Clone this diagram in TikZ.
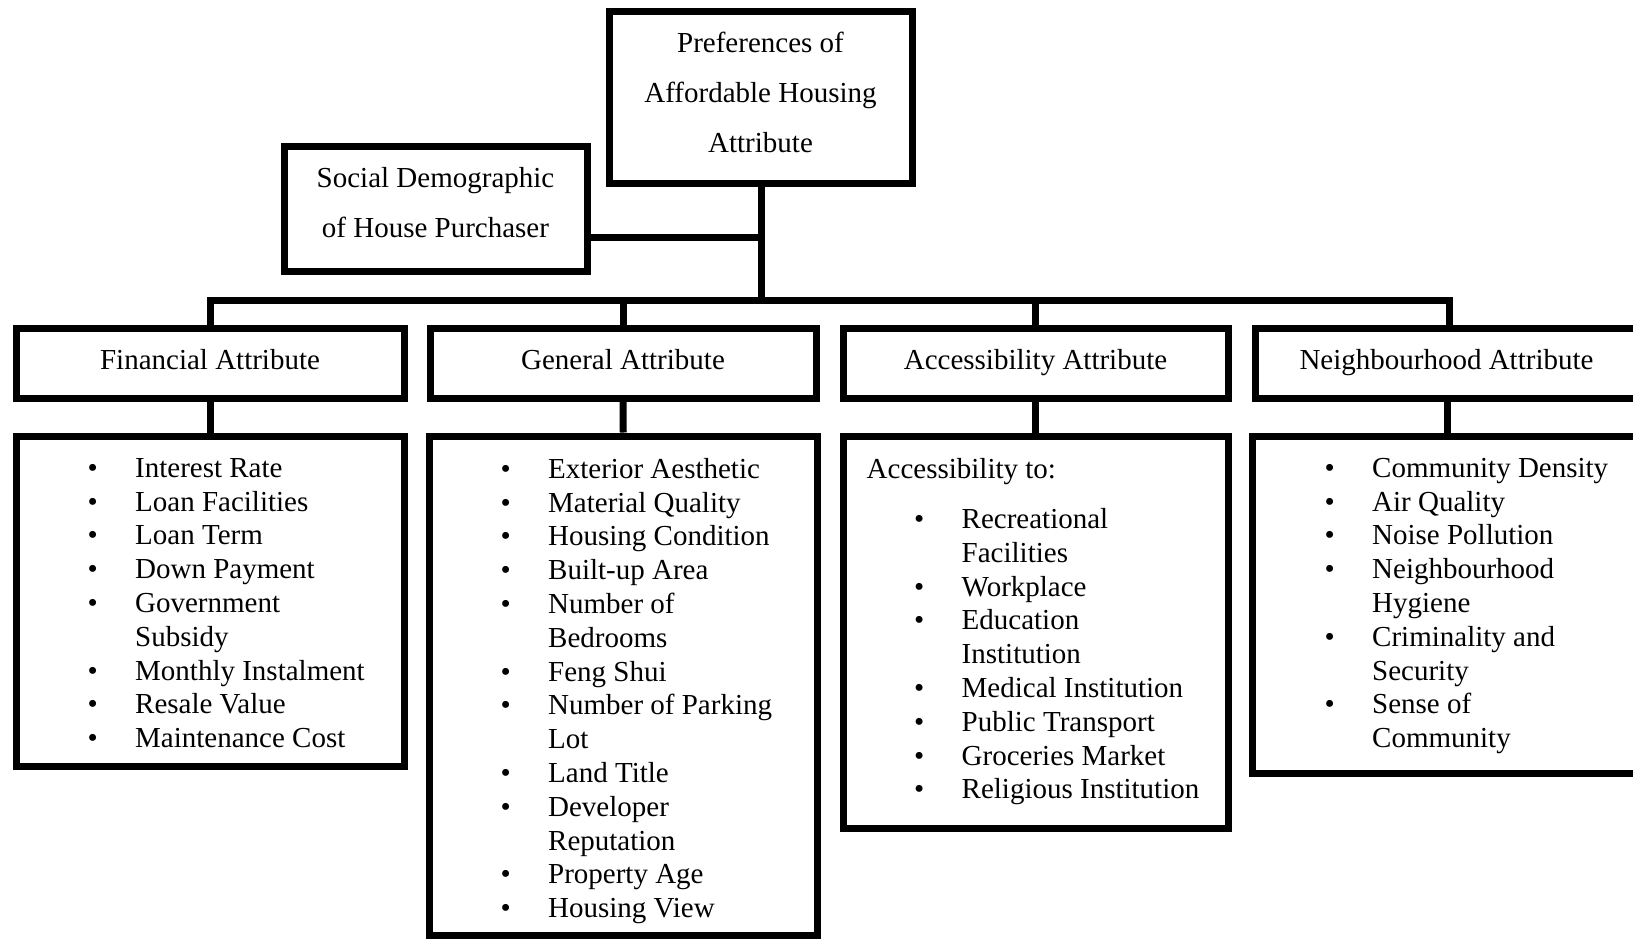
\documentclass[tikz,border=0pt]{standalone}
\usepackage{fontspec}
\setmainfont{Liberation Serif}
\newcommand{\bl}{\makebox[47.5pt][l]{•}}
\newcommand{\ind}{\hspace*{47.5pt}}
\begin{document}
\begin{tikzpicture}[x=1pt,y=-1pt,
  box/.style={draw, line width=7pt, inner sep=0pt, align=center, font=\fontsize{29}{33.8}\selectfont},
  hdr/.style={box, minimum height=70pt, text height=20pt, text depth=8pt},
  conn/.style={line width=7pt, line join=miter},
  listtext/.style={anchor=north west, inner sep=0pt, align=left, font=\fontsize{29}{33.8}\selectfont}]
\useasboundingbox (0,0) rectangle (1633,940);

% top level
\node[box, minimum width=303pt, minimum height=172pt, font=\fontsize{29}{50}\selectfont] (top) at (760.5,97)
  {Preferences of\\Affordable Housing\\Attribute\rule[-10pt]{0pt}{0pt}};
\node[box, minimum width=303pt, minimum height=125pt, font=\fontsize{29}{50}\selectfont] (social) at (435.5,208.5)
  {Social Demographic\\of House Purchaser\rule[-12pt]{0pt}{0pt}};

% headers
\node[hdr, minimum width=388pt] (finh) at (210,363) {Financial Attribute};
\node[hdr, minimum width=386pt] (genh) at (623,363) {General Attribute};
\node[hdr, minimum width=385pt] (acch) at (1035.5,363) {Accessibility Attribute};
\node[hdr, minimum width=420pt] (neih) at (1465.5,363) {\hspace*{-38pt}Neighbourhood Attribute};

% list boxes
\node[box, minimum width=388pt, minimum height=330pt] (finl) at (210,601) {};
\node[box, minimum width=387.5pt, minimum height=499pt] (genl) at (623.25,685.5) {};
\node[box, minimum width=385pt, minimum height=392.5pt] (accl) at (1035.5,632.25) {};
\node[box, minimum width=420pt, minimum height=337pt] (neil) at (1462,604.5) {};

% list texts
\node[listtext] (fint) at (87.5,453.5) {\strut\bl Interest Rate\\
\bl Loan Facilities\\
\bl Loan Term\\
\bl Down Payment\\
\bl Government\\
\ind Subsidy\\
\bl Monthly Instalment\\
\bl Resale Value\\
\bl Maintenance Cost};

\node[listtext] (gent) at (500.5,454.5) {\strut\bl Exterior Aesthetic\\
\bl Material Quality\\
\bl Housing Condition\\
\bl Built-up Area\\
\bl Number of\\
\ind Bedrooms\\
\bl Feng Shui\\
\bl Number of Parking\\
\ind Lot\\
\bl Land Title\\
\bl Developer\\
\ind Reputation\\
\bl Property Age\\
\bl Housing View};

\node[listtext] (acct) at (866.5,454.5) {\strut Accessibility to:\\[16.4pt]
\ind\bl Recreational\\
\ind\ind Facilities\\
\ind\bl Workplace\\
\ind\bl Education\\
\ind\ind Institution\\
\ind\bl Medical Institution\\
\ind\bl Public Transport\\
\ind\bl Groceries Market\\
\ind\bl Religious Institution};

\node[listtext] (neit) at (1324.5,453.5) {\strut\bl Community Density\\
\bl Air Quality\\
\bl Noise Pollution\\
\bl Neighbourhood\\
\ind Hygiene\\
\bl Criminality and\\
\ind Security\\
\bl Sense of\\
\ind Community};

% connectors
\coordinate (bar) at (761,300);
\coordinate (j1) at (761,237.5);
\coordinate (d4) at (1449,300);
\coordinate (n4) at (1447,0);
\draw[conn] (top.south -| bar) -- (bar);
\draw[conn] (social.east |- j1) -- (j1);
\draw[conn] (finh.north) -- (finh.north |- bar) -- (d4) -- (d4 |- neih.north);
\draw[conn] (genh.north |- bar) -- (genh.north);
\draw[conn] (acch.north |- bar) -- (acch.north);
\draw[conn] (finh.south) -- (finl.north);
\draw[conn] (genh.south) -- (genl.north);
\draw[conn] (acch.south) -- (accl.north);
\draw[conn] (n4 |- neih.south) -- (n4 |- neil.north);
\end{tikzpicture}
\end{document}
